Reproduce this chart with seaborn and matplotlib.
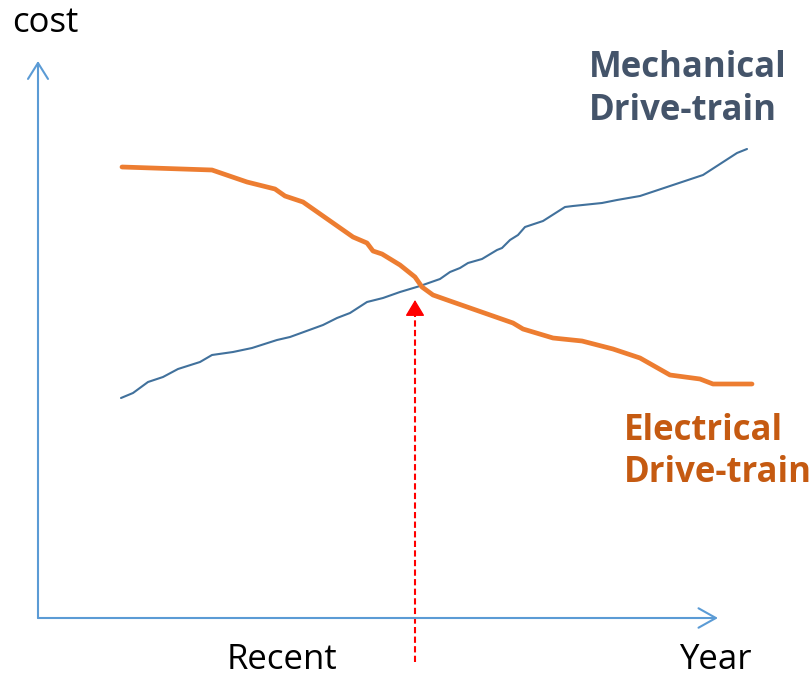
import matplotlib
matplotlib.use("Agg")
import matplotlib.pyplot as plt
import seaborn as sns
import pandas as pd

# ---- data (x in year units, cost in arbitrary units) ----
mech_x = [121, 133, 148, 163, 178, 200, 212, 233, 252, 277, 290, 323, 337, 350, 367, 383,
          400, 420, 440, 450, 460, 468, 482, 497, 502, 510, 518, 525, 543, 565, 573, 602,
          617, 640, 667, 703, 737, 747]
mech_cost = [279, 284, 295, 300, 308, 315, 322, 325, 329, 337, 340, 352, 359, 364, 375, 379,
             385, 391, 398, 405, 409, 414, 418, 427, 429, 437, 442, 450, 456, 470, 471, 474,
             477, 481, 490, 502, 524, 528]

elec_x = [122, 212, 247, 275, 285, 303, 353, 367, 373, 382, 400, 415, 422, 433, 450, 513,
          523, 553, 582, 613, 640, 670, 700, 713, 752]
elec_cost = [510, 507, 495, 488, 481, 475, 440, 434, 426, 423, 412, 400, 390, 382, 376, 354,
             348, 339, 336, 328, 319, 302, 298, 293, 293]

crossover_x = 415
crossover_cost = 377

W, H = 811, 677

df = pd.concat([
    pd.DataFrame({"year": mech_x, "cost": mech_cost, "type": "Mechanical"}),
    pd.DataFrame({"year": elec_x, "cost": elec_cost, "type": "Electrical"}),
], ignore_index=True)

sns.set_theme(style="white")
plt.rcParams["font.family"] = ["Open Sans", "DejaVu Sans"]

fig = plt.figure(figsize=(W / 100, H / 100), dpi=100)
ax = fig.add_axes([0, 0, 1, 1])
ax.set_xlim(0, W)
ax.set_ylim(0, H)
ax.axis("off")

sns.lineplot(data=df[df["type"] == "Mechanical"], x="year", y="cost", ax=ax,
             color="#41719C", linewidth=1.5, sort=False, estimator=None, legend=False)
sns.lineplot(data=df[df["type"] == "Electrical"], x="year", y="cost", ax=ax,
             color="#ED7D31", linewidth=3.4, sort=False, estimator=None, legend=False)

# axes with open arrow heads
axis_col = "#5B9BD5"
ax.annotate("", xy=(38, 616), xytext=(38, 59),
            arrowprops=dict(arrowstyle="->,head_length=11.5,head_width=7.2",
                            mutation_scale=1, color=axis_col, lw=1.5,
                            shrinkA=0, shrinkB=0))
ax.annotate("", xy=(718, 59), xytext=(38, 59),
            arrowprops=dict(arrowstyle="->,head_length=12.5,head_width=7",
                            mutation_scale=1, color=axis_col, lw=1.5,
                            shrinkA=0, shrinkB=0))

# red dashed crossover arrow
ax.plot([crossover_x, crossover_x], [15, crossover_cost - 10], color="#FF0000",
        lw=1.5, linestyle=(0, (3, 1.6)))
ax.annotate("", xy=(crossover_x, crossover_cost), xytext=(crossover_x, crossover_cost - 15),
            arrowprops=dict(arrowstyle="-|>,head_length=10,head_width=6",
                            mutation_scale=1, color="#FF0000", lw=1,
                            shrinkA=0, shrinkB=0))

# texts
ax.text(12, H - 32, "cost", fontsize=25, color="black", ha="left", va="baseline")
ax.text(282, H - 669, "Recent", fontsize=25, color="black", ha="center", va="baseline")
ax.text(715, H - 669, "Year", fontsize=25, color="black", ha="center", va="baseline")

ax.text(589, H - 77, "Mechanical", fontsize=25, fontweight="bold", color="#44546A",
        ha="left", va="baseline")
ax.text(589, H - 120, "Drive-train", fontsize=25, fontweight="bold", color="#44546A",
        ha="left", va="baseline")
ax.text(624, H - 440, "Electrical", fontsize=25, fontweight="bold", color="#C55A11",
        ha="left", va="baseline")
ax.text(624, H - 482, "Drive-train", fontsize=25, fontweight="bold", color="#C55A11",
        ha="left", va="baseline")

fig.savefig("out.png", dpi=100)
